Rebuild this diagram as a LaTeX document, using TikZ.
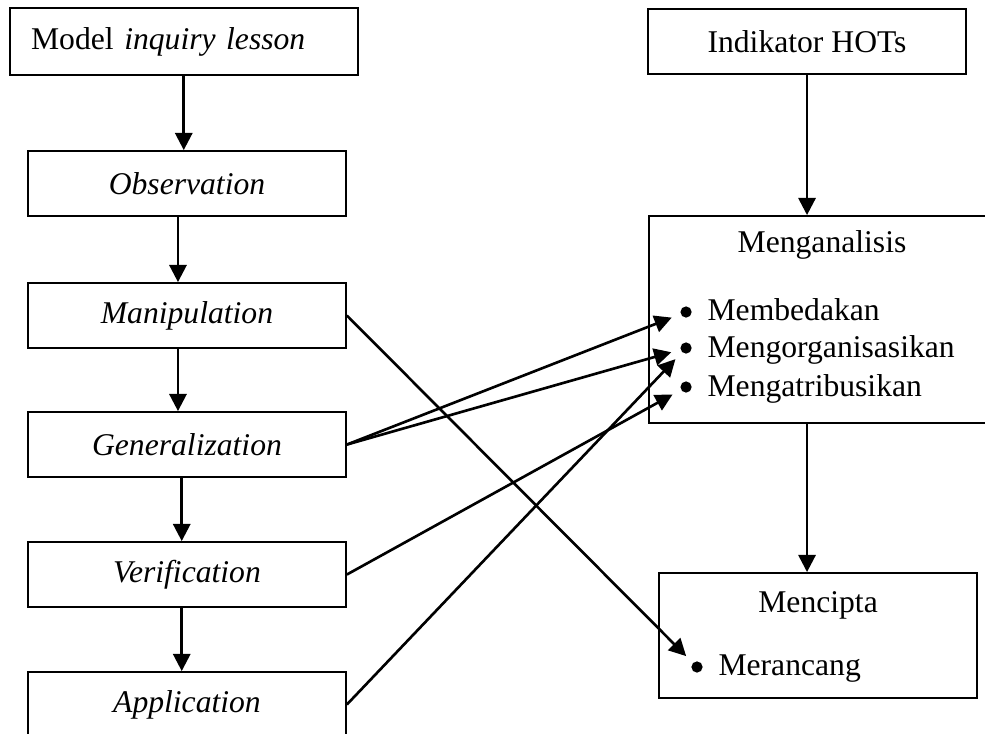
\documentclass[tikz,border=0pt]{standalone}
\usepackage{fontspec}
\setmainfont{Liberation Serif}
\usetikzlibrary{arrows.meta}

\begin{document}
\begin{tikzpicture}[
        every node/.style={font=\fontsize{12}{14.4}\selectfont},
        box/.style={draw, line width=0.7pt, inner sep=0pt, minimum width=4.24cm, minimum height=0.867cm},
        arr/.style={line width=1pt, -{Triangle[length=6.5pt, width=6.5pt]}},
        bul/.style={circle, fill=black, inner sep=0pt, minimum size=0.15cm},
        item/.style={anchor=base west, inner sep=0pt}
    ]
        % Ukuran gambar (sebagian kotak terpotong di tepi)
        \clip (0, 0) rectangle (13.133, -9.773);

        % --- KOLOM KIRI: tahapan model ---
        \node[box, text width=4.07cm, inner xsep=0.287cm, align=left, minimum height=0.893cm] (model) at (2.45, -0.553) {Model \textit{inquiry lesson}};
        \node[box] (obs) at (2.493, -2.447) {\textit{Observation}};
        \node[box] (man) at (2.493, -4.207) {\textit{Manipulation}};
        \node[box] (gen) at (2.493, -5.927) {\textit{Generalization}};
        \node[box] (ver) at (2.493, -7.66) {\textit{Verification}};
        \node[box] (app) at (2.493, -9.393) {\textit{Application}};

        % Panah antar tahapan
        \draw[arr] (model.south) -- (model.south |- obs.north);
        \draw[arr] ([xshift=-1.2mm]obs.south) -- ([xshift=-1.2mm]man.north);
        \draw[arr] ([xshift=-1.2mm]man.south) -- ([xshift=-1.2mm]gen.north);
        \draw[arr] ([xshift=-0.7mm]gen.south) -- ([xshift=-0.7mm]ver.north);
        \draw[arr] ([xshift=-0.7mm]ver.south) -- ([xshift=-0.7mm]app.north);

        % --- KOLOM KANAN: indikator HOTs ---
        \node[box] (hots) at (10.76, -0.553) {Indikator HOTs};
        \node[box, minimum width=4.613cm, minimum height=2.76cm] (anls) at (10.96, -4.26) {};
        \node[anchor=base, inner sep=0pt] (anlsT) at (10.96, -3.373) {Menganalisis};
        \node[box, minimum height=1.667cm] (cipta) at (10.907, -8.473) {};
        \node[anchor=base, inner sep=0pt] (ciptaT) at (10.907, -8.16) {Mencipta};

        % Butir-butir indikator
        \node[bul] (b1) at (9.147, -4.16) {};
        \node[bul] (b2) at (9.147, -4.64) {};
        \node[bul] (b3) at (9.147, -5.16) {};
        \node[bul] (b4) at (9.293, -8.893) {};
        \node[item] (t1) at (9.427, -4.267) {Membedakan};
        \node[item] (t2) at (9.427, -4.773) {Mengorganisasikan};
        \node[item] (t3) at (9.427, -5.293) {Mengatribusikan};
        \node[item] (t4) at (9.573, -9.0) {Merancang};

        \draw[arr] (hots.south) -- (hots.south |- anls.north);
        \draw[arr] (anls.south -| hots.south) -- (cipta.north -| hots.south);

        % --- Hubungan tahapan dengan indikator ---
        \draw[arr, shorten >=3.5pt] (man.east) -- (b4);
        \draw[arr, shorten >=3.5pt] (gen.east) -- (b1);
        \draw[arr, shorten >=3.5pt] (gen.east) -- (b2);
        \draw[arr, shorten >=3.5pt] (ver.east) -- (b3);
        \draw[arr, shorten >=3.5pt] (app.east) -- (b2);
    \end{tikzpicture}
\end{document}
